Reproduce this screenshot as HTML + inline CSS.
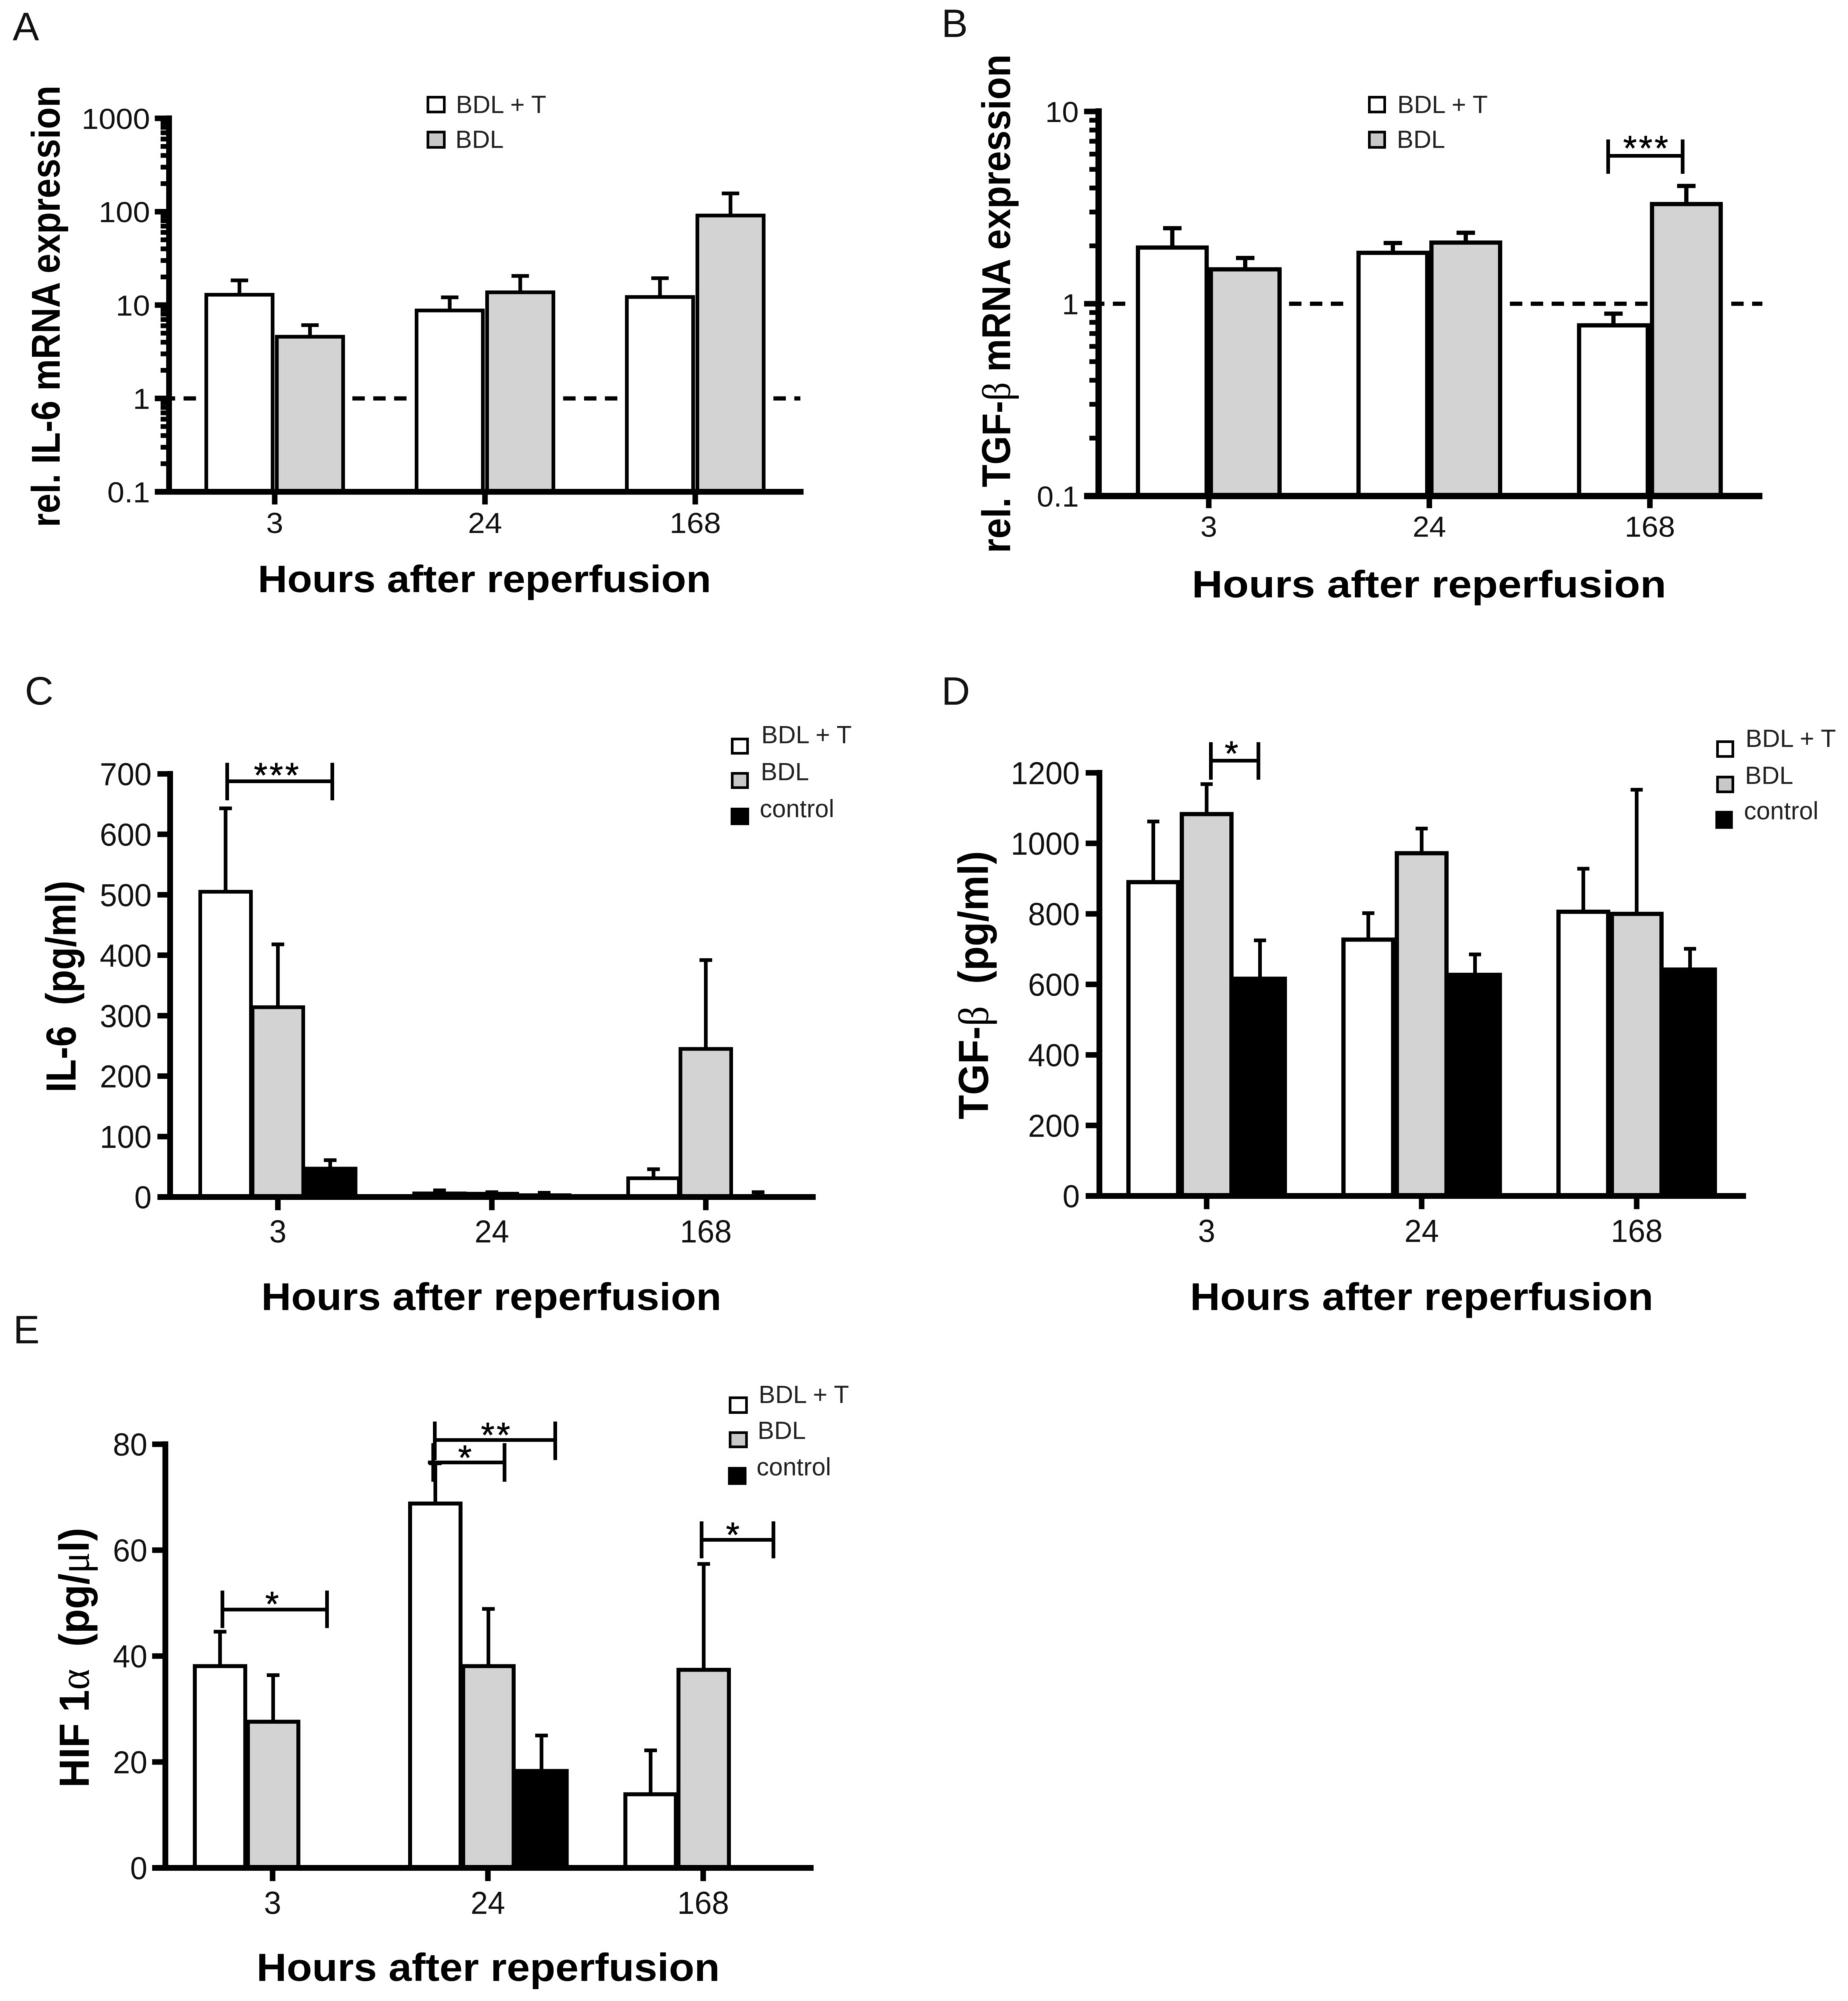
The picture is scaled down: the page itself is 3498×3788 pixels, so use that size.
<!DOCTYPE html>
<html lang="en">
<head>
<meta charset="utf-8">
<title>Cytokine expression after reperfusion</title>
<style>
html,body{margin:0;padding:0;background:#fff;}
svg{display:block;font-family:"Liberation Sans",sans-serif;fill:#111;filter:blur(0.9px);}
.ttl{font-weight:700;fill:#000;}
.lg{font-size:47px;fill:#222;}
.ltr{font-size:75px;fill:#111;}
.star{font-size:66px;text-anchor:middle;fill:#000;stroke:#000;stroke-width:0.8;letter-spacing:4px;}
.br{stroke:#000;stroke-width:7;fill:none;}
.sw{stroke:#000;stroke-width:5;}
.greek{font-family:"Liberation Serif",serif;font-weight:400;}
</style>
</head>
<body>
<svg id="chart" xmlns="http://www.w3.org/2000/svg" width="3498" height="3788" viewBox="0 0 3498 3788">
  <rect width="3498" height="3788" fill="#fff"/>

  <!-- Panel letters -->
  <text class="ltr" x="24" y="76">A</text>
  <text class="ltr" x="1782" y="70">B</text>
  <text class="ltr" x="47" y="1334">C</text>
  <text class="ltr" x="1782" y="1334">D</text>
  <text class="ltr" x="25" y="2543">E</text>

  <g id="panel-a"></g>
  <g id="panel-b"></g>
  <g id="panel-c"></g>
  <g id="panel-d"></g>
  <g id="panel-e"></g>

  <!-- Y axis titles -->
  <text class="ttl" font-size="76" textLength="836" lengthAdjust="spacingAndGlyphs" transform="translate(113,998) rotate(-90)">rel. IL-6 mRNA expression</text>
  <text class="ttl" font-size="76" textLength="944" lengthAdjust="spacingAndGlyphs" transform="translate(1912,1047) rotate(-90)">rel. TGF-<tspan class="greek">β</tspan> mRNA expression</text>
  <text class="ttl" font-size="80" textLength="401" lengthAdjust="spacingAndGlyphs" transform="translate(143,2068) rotate(-90)">IL-6 &#160;(pg/ml)</text>
  <text class="ttl" font-size="80" textLength="508" lengthAdjust="spacingAndGlyphs" transform="translate(1870,2119) rotate(-90)">TGF-<tspan class="greek">β</tspan> &#160;(pg/ml)</text>
  <text class="ttl" font-size="80" textLength="492" lengthAdjust="spacingAndGlyphs" transform="translate(168,3384) rotate(-90)">HIF 1<tspan class="greek">α</tspan> &#160;(pg/<tspan class="greek">μ</tspan>l)</text>

  <!-- X axis titles -->
  <text class="ttl" font-size="72" text-anchor="middle" x="917" y="1121" textLength="858" lengthAdjust="spacingAndGlyphs">Hours after reperfusion</text>
  <text class="ttl" font-size="72" text-anchor="middle" x="2705" y="1131" textLength="898" lengthAdjust="spacingAndGlyphs">Hours after reperfusion</text>
  <text class="ttl" font-size="73" text-anchor="middle" x="930" y="2480" textLength="871" lengthAdjust="spacingAndGlyphs">Hours after reperfusion</text>
  <text class="ttl" font-size="73" text-anchor="middle" x="2691" y="2480" textLength="877" lengthAdjust="spacingAndGlyphs">Hours after reperfusion</text>
  <text class="ttl" font-size="74" text-anchor="middle" x="924" y="3750" textLength="877" lengthAdjust="spacingAndGlyphs">Hours after reperfusion</text>

  <!-- Legends -->
  <g>
    <rect class="sw" x="810" y="184" width="31" height="28" fill="#fff"/>
    <text class="lg" x="863" y="214">BDL + T</text>
    <rect class="sw" x="810" y="250" width="31" height="29" fill="#c8c8c8"/>
    <text class="lg" x="862" y="280">BDL</text>
  </g>
  <g>
    <rect class="sw" x="2592" y="184" width="29" height="28" fill="#fff"/>
    <text class="lg" x="2645" y="214">BDL + T</text>
    <rect class="sw" x="2592" y="250" width="29" height="29" fill="#c8c8c8"/>
    <text class="lg" x="2644" y="280">BDL</text>
  </g>
  <g>
    <rect class="sw" x="1386" y="1399" width="29" height="27" fill="#fff"/>
    <text class="lg" x="1441" y="1407">BDL + T</text>
    <rect class="sw" x="1386" y="1464" width="29" height="27" fill="#c8c8c8"/>
    <text class="lg" x="1440" y="1477">BDL</text>
    <rect x="1383" y="1529" width="35" height="33" fill="#000"/>
    <text class="lg" x="1438" y="1547">control</text>
  </g>
  <g>
    <rect class="sw" x="3251" y="1404" width="29" height="28" fill="#fff"/>
    <text class="lg" x="3304" y="1414">BDL + T</text>
    <rect class="sw" x="3251" y="1471" width="29" height="28" fill="#c8c8c8"/>
    <text class="lg" x="3303" y="1484">BDL</text>
    <rect x="3247" y="1535" width="33" height="34" fill="#000"/>
    <text class="lg" x="3301" y="1551">control</text>
  </g>
  <g>
    <rect class="sw" x="1382" y="2646" width="31" height="28" fill="#fff"/>
    <text class="lg" x="1436" y="2656">BDL + T</text>
    <rect class="sw" x="1382" y="2712" width="31" height="27" fill="#c8c8c8"/>
    <text class="lg" x="1434" y="2724">BDL</text>
    <rect x="1378" y="2777" width="35" height="34" fill="#000"/>
    <text class="lg" x="1432" y="2793">control</text>
  </g>

  <!-- Significance brackets -->
  <g>
    <path class="br" d="M3044 264V329M3044 295H3185M3185 264V329"/>
    <text class="star" x="3117" y="303">***</text>
  </g>
  <g>
    <path class="br" d="M430 1444V1515M430 1479H629M629 1444V1515"/>
    <text class="star" x="525" y="1490">***</text>
  </g>
  <g>
    <path class="br" d="M2292 1405V1476M2292 1440H2382M2382 1405V1476"/>
    <text class="star" x="2333" y="1449">*</text>
  </g>
  <g>
    <path class="br" d="M421 3011V3082M421 3047H619M619 3011V3082"/>
    <text class="star" x="517" y="3059">*</text>
  </g>
  <g>
    <path class="br" d="M823 2691V2764M823 2726H1051M1051 2691V2764"/>
    <text class="star" x="940" y="2739" letter-spacing="8">**</text>
  </g>
  <g>
    <path class="br" d="M820 2732V2805M810 2768.5H955M955 2732V2805"/>
    <text class="star" x="882" y="2782">*</text>
  </g>
  <g>
    <path class="br" d="M1328 2880V2950M1328 2915H1464M1464 2880V2950"/>
    <text class="star" x="1389" y="2928">*</text>
  </g>
</svg>

<script>
// Shared categories
const hours = ['3', '24', '168'];

// Panel A: rel. IL-6 mRNA expression (log axis)
const aYTicks = [0.1, 1, 10, 100, 1000];
const aBdlT = [12.9, 8.75, 12.2];
const aBdlTUpper = [18.4, 12.1, 19.4];
const aBdl = [4.58, 13.7, 91];
const aBdlUpper = [6.1, 20.5, 157];

// Panel B: rel. TGF-beta mRNA expression (log axis)
const bYTicks = [0.1, 1, 10];
const bBdlT = [1.96, 1.84, 0.772];
const bBdlTUpper = [2.47, 2.07, 0.888];
const bBdl = [1.51, 2.08, 3.3];
const bBdlUpper = [1.73, 2.34, 4.1];

// Panel C: IL-6 pg/ml
const cYTicks = [0, 100, 200, 300, 400, 500, 600, 700];
const cBdlT = [505, 6, 31];
const cBdlTUpper = [643, 11, 46];
const cBdl = [314, 5.5, 245];
const cBdlUpper = [418, 8, 392];
const cControl = [47, 3, 1];
const cControlUpper = [61, 7, 8];

// Panel D: TGF-beta pg/ml
const dYTicks = [0, 200, 400, 600, 800, 1000, 1200];
const dBdlT = [890, 727, 806];
const dBdlTUpper = [1062, 802, 928];
const dBdl = [1083, 972, 800];
const dBdlUpper = [1168, 1042, 1152];
const dControl = [616, 627, 642];
const dControlUpper = [725, 685, 701];

// Panel E: HIF 1-alpha pg/ul
const eYTicks = [0, 20, 40, 60, 80];
const eBdlT = [38.1, 68.8, 13.9];
const eBdlTUpper = [44.6, 76.4, 22.2];
const eBdl = [27.6, 38.1, 37.4];
const eBdlUpper = [36.4, 48.9, 57.4];
const eControl = [null, 18.3, null];
const eControlUpper = [null, 25, null];

const NS = 'http://www.w3.org/2000/svg';

function make(parent, tag, attrs) {
  const el = document.createElementNS(NS, tag);
  for (const k in attrs) el.setAttribute(k, attrs[k]);
  parent.appendChild(el);
  return el;
}

function fillFor(i) {
  if (i === 0) return '#ffffff';
  if (i === 1) return '#d3d3d3';
  return '#000000';
}

function seriesName(i) {
  if (i === 0) return 'bdl-t';
  if (i === 1) return 'bdl';
  return 'control';
}

function drawPanel(p) {
  const g = document.getElementById(p.id);

  const yScale = p.log
    ? function (v) {
        const lo = Math.log10(p.yMin), hi = Math.log10(p.yMax);
        return p.yBottom + (Math.log10(v) - lo) / (hi - lo) * (p.yTop - p.yBottom);
      }
    : function (v) {
        return p.yBottom + (v - p.yMin) / (p.yMax - p.yMin) * (p.yTop - p.yBottom);
      };
  const xScale = function (i) { return p.xFirst + i * p.xStep; };

  // Reference dashed line at 1
  if (p.dashes) {
    p.dashes.forEach(function (seg) {
      const ln = make(g, 'line', {
        x1: seg[0], x2: seg[1], y1: yScale(1), y2: yScale(1),
        stroke: '#000', 'stroke-width': 8, 'stroke-dasharray': '23.5 16'
      });
      
      
    });
  }

  // Bars with error bars
  const n = p.seriesCount;
  p.series.forEach(function (s, si) {
    hours.forEach(function (cat, ci) {
      const v = s.values[ci];
      if (v === null) return;
      const left = xScale(ci) + p.barShift + (si - n / 2) * (p.barW + p.barGap) + p.barGap / 2;
      const mid = left + p.barW / 2;
      const yv = yScale(v);
      const yu = yScale(s.upper[ci]);

      const stem = make(g, 'path', {
        d: 'M' + mid + ' ' + yv + 'V' + yu + 'M' + (mid - p.capW / 2) + ' ' + yu + 'H' + (mid + p.capW / 2),
        stroke: '#000', 'stroke-width': p.errW, fill: 'none'
      });
      
      

      const bar = make(g, 'rect', {
        x: left, y: yv, width: p.barW, height: Math.max(0, p.yBase - yv),
        fill: fillFor(si), stroke: '#000', 'stroke-width': p.barStroke
      });
      
      
    });
  });

  // Y axis line
  const yAxis = make(g, 'line', {
    x1: p.axisX, x2: p.axisX, y1: p.yTop - p.axisW / 2, y2: p.yBase,
    stroke: '#000', 'stroke-width': p.axisW
  });
  
  

  // X axis line
  const xAxis = make(g, 'line', {
    x1: p.tickLeft, x2: p.xEnd, y1: p.yBase, y2: p.yBase,
    stroke: '#000', 'stroke-width': p.axisW
  });
  
  

  // Minor ticks for log axes
  if (p.log) {
    for (let d = Math.log10(p.yMin); d < Math.log10(p.yMax); d++) {
      for (let m = 2; m <= 9; m++) {
        const y = yScale(m * Math.pow(10, d));
        const mt = make(g, 'line', {
          x1: p.minorLeft, x2: p.axisX, y1: y, y2: y,
          stroke: '#000', 'stroke-width': 9
        });
        
        
      }
    }
  }

  // Y ticks and labels
  p.yTicks.forEach(function (t) {
    const y = yScale(t);
    const tk = make(g, 'line', {
      x1: p.tickLeft, x2: p.axisX, y1: y, y2: y,
      stroke: '#000', 'stroke-width': 10.5
    });
    
    

    const lb = make(g, 'text', {
      'text-anchor': 'end', 'font-size': p.tickFont,
      transform: 'translate(' + p.labelRight + ',' + (y + p.tickFont * 0.36) + ') scale(' + p.tickStretch + ',1)'
    });
    lb.textContent = String(t);
    
    
  });

  // X ticks and labels
  hours.forEach(function (cat, ci) {
    const x = xScale(ci);
    const tk = make(g, 'line', {
      x1: x, x2: x, y1: p.yBase, y2: p.xTickBottom,
      stroke: '#000', 'stroke-width': 10.5
    });
    
    

    const lb = make(g, 'text', {
      'text-anchor': 'middle', 'font-size': p.tickFont,
      transform: 'translate(' + x + ',' + p.xLabelY + ') scale(' + p.tickStretch + ',1)'
    });
    lb.textContent = cat;
    
    
  });
}

drawPanel({
  id: 'panel-a', log: true, yTicks: aYTicks, yMin: 0.1, yMax: 1000,
  yBottom: 931, yTop: 224, yBase: 931, axisX: 320, axisW: 11, tickLeft: 293, minorLeft: 304, xEnd: 1521,
  xFirst: 520, xStep: 398, xTickBottom: 955, xLabelY: 1009, labelRight: 284, tickFont: 55, tickStretch: 1.06,
  barW: 125.5, barGap: 8, barShift: 0, barStroke: 7, errW: 7, capW: 33, seriesCount: 2,
  dashes: [[308, 374], [667, 770], [1066, 1169], [1464, 1515]],
  series: [{ values: aBdlT, upper: aBdlTUpper }, { values: aBdl, upper: aBdlUpper }]
});

drawPanel({
  id: 'panel-b', log: true, yTicks: bYTicks, yMin: 0.1, yMax: 10,
  yBottom: 939, yTop: 211, yBase: 939, axisX: 2079.5, axisW: 12, tickLeft: 2052, minorLeft: 2062, xEnd: 3336,
  xFirst: 2288, xStep: 417.5, xTickBottom: 962, xLabelY: 1016, labelRight: 2042, tickFont: 55, tickStretch: 1.04,
  barW: 130, barGap: 8, barShift: 0, barStroke: 8, errW: 8, capW: 35, seriesCount: 2,
  dashes: [[2067, 2130], [2440, 2554], [2858, 3128], [3277, 3336]],
  series: [{ values: bBdlT, upper: bBdlTUpper }, { values: bBdl, upper: bBdlUpper }]
});

drawPanel({
  id: 'panel-c', log: false, yTicks: cYTicks, yMin: 0, yMax: 700,
  yBottom: 2266, yTop: 1465, yBase: 2266, axisX: 322, axisW: 11, tickLeft: 298, xEnd: 1544,
  xFirst: 526, xStep: 405, xTickBottom: 2291, xLabelY: 2352, labelRight: 287, tickFont: 60, tickStretch: 0.98,
  barW: 96, barGap: 3, barShift: 0, barStroke: 7, errW: 7, capW: 24, seriesCount: 3,
  series: [{ values: cBdlT, upper: cBdlTUpper }, { values: cBdl, upper: cBdlUpper }, { values: cControl, upper: cControlUpper }]
});

drawPanel({
  id: 'panel-d', log: false, yTicks: dYTicks, yMin: 0, yMax: 1200,
  yBottom: 2264, yTop: 1463, yBase: 2264, axisX: 2081, axisW: 11, tickLeft: 2055, xEnd: 3305,
  xFirst: 2284, xStep: 407, xTickBottom: 2289, xLabelY: 2351, labelRight: 2044, tickFont: 60, tickStretch: 0.98,
  barW: 94, barGap: 7, barShift: 0, barStroke: 8, errW: 7, capW: 23, seriesCount: 3,
  series: [{ values: dBdlT, upper: dBdlTUpper }, { values: dBdl, upper: dBdlUpper }, { values: dControl, upper: dControlUpper }]
});

drawPanel({
  id: 'panel-e', log: false, yTicks: eYTicks, yMin: 0, yMax: 80,
  yBottom: 3536, yTop: 2734, yBase: 3536, axisX: 313, axisW: 11, tickLeft: 288, xEnd: 1540,
  xFirst: 516, xStep: 407.5, xTickBottom: 3561, xLabelY: 3623, labelRight: 279, tickFont: 60, tickStretch: 0.98,
  barW: 95.5, barGap: 5, barShift: 1, barStroke: 7.5, errW: 7, capW: 24, seriesCount: 3,
  series: [{ values: eBdlT, upper: eBdlTUpper }, { values: eBdl, upper: eBdlUpper }, { values: eControl, upper: eControlUpper }]
});
</script>
</body>
</html>
